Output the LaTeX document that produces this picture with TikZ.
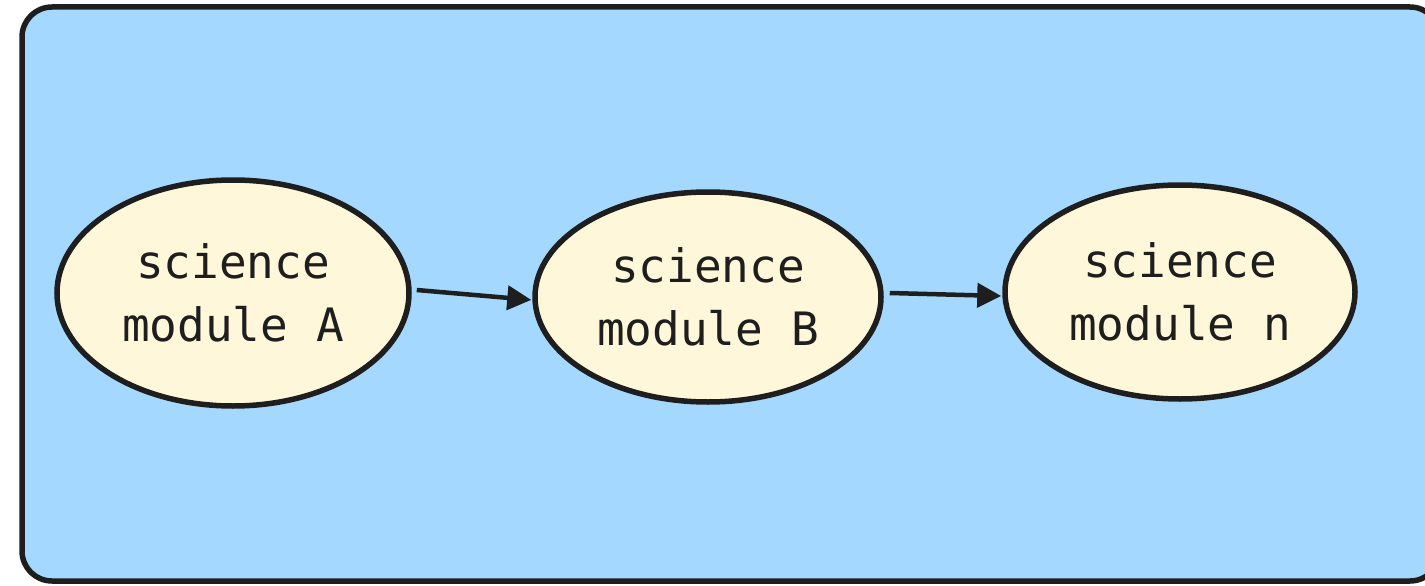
\documentclass[tikz,border=0pt]{standalone}
\usepackage{fontspec}
\setmonofont{DejaVu Sans Mono}
\usetikzlibrary{shapes.geometric,arrows.meta}
\definecolor{bgblue}{HTML}{A5D8FF}
\definecolor{cream}{HTML}{FFF7DA}
\definecolor{ink}{HTML}{1E1E1E}
\tikzset{
  module/.style={ellipse, draw=ink, fill=cream, line width=5.5pt, inner sep=0pt,
    font=\ttfamily\fontsize{46}{63}\selectfont, align=center, text=ink},
  link/.style={draw=ink, line width=4.5pt, -{Triangle[length=24pt,width=24pt]}, shorten >=1pt}
}
\begin{document}
\begin{tikzpicture}[x=1pt,y=-1pt]
\useasboundingbox (0,0) rectangle (1425,586);
\draw[draw=ink, fill=bgblue, line width=5.5pt, rounded corners=30pt] (22,7) rectangle (1440,581);
\node[module, minimum width=352pt, minimum height=226pt] (a) at (233,293) {science\\module A};
\node[module, minimum width=346pt, minimum height=210pt] (b) at (708,297) {science\\module B};
\node[module, minimum width=350pt, minimum height=214pt] (n) at (1180,292) {science\\module n};
\draw[link] ([shift={(5,-3)}]a.east) -- ([shift={(0,3)}]b.west);
\draw[link] ([shift={(6,-4)}]b.east) -- ([shift={(0,4)}]n.west);
\end{tikzpicture}
\end{document}
